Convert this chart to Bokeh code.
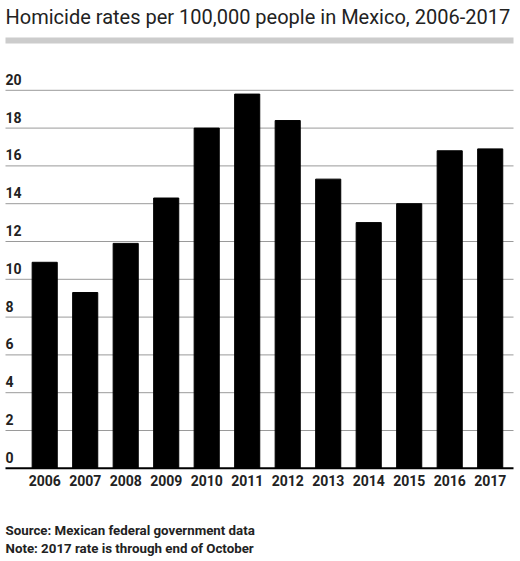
from bokeh.plotting import figure
from bokeh.models import Range1d, Label, BoxAnnotation
from bokeh.core.properties import value
from bokeh.embed import file_html
from bokeh.resources import INLINE

# ---- data ----
years = [2006, 2007, 2008, 2009, 2010, 2011, 2012, 2013, 2014, 2015, 2016, 2017]
rates = [10.9, 9.3, 11.9, 14.3, 18.0, 19.8, 18.4, 15.3, 13.0, 14.0, 16.8, 16.9]
y_ticks = [0, 2, 4, 6, 8, 10, 12, 14, 16, 18, 20]
y_tick_labels = [str(t) for t in y_ticks]
year_labels = [str(y) for y in years]
title_text = "Homicide rates per 100,000 people in Mexico, 2006-2017"
source_text = "Source: Mexican federal government data"
note_text = "Note: 2017 rate is through end of October"

# ---- layout geometry (pixels) ----
W, H = 520, 561
px_per_year = 40.5
first_center_px = 44.2
zero_px = 467.8
px_per_unit = 18.9
grid_left_px = 5
grid_right_px = 513
TEXT_SHIFT = 6  # compensate text baseline placement

x_start = years[0] - first_center_px / px_per_year
x_end = x_start + W / px_per_year
y_end = zero_px / px_per_unit
y_start = -(H - zero_px) / px_per_unit

def xpx(px):
    return x_start + px / px_per_year

def ypx(py):
    return y_end - (py - TEXT_SHIFT) / px_per_unit

FONT = "Roboto"
TXT = "#222222"

p = figure(width=W, height=H, x_range=Range1d(x_start, x_end), y_range=Range1d(y_start, y_end),
           x_axis_location=None, y_axis_location=None, toolbar_location=None,
           output_backend="svg", min_border=0, outline_line_color=None,
           background_fill_color="white", border_fill_color="white")
p.grid.visible = False

# gridlines
grid_vals = y_ticks[1:]
p.segment(x0=[xpx(grid_left_px)] * len(grid_vals), x1=[xpx(grid_right_px)] * len(grid_vals),
          y0=grid_vals, y1=grid_vals, line_color="#9a9a9a", line_width=1)

# bars
p.vbar(x=years, top=rates, bottom=0, width=0.62, fill_color="black", line_color="black")

# baseline
p.segment(x0=[xpx(grid_left_px)], x1=[xpx(grid_right_px)], y0=[0], y1=[0],
          line_color="black", line_width=2)

# y tick labels (inside plot, above gridlines)
p.text(x=[xpx(grid_left_px)] * len(y_ticks), y=y_ticks, text=y_tick_labels, text_font=value(FONT),
       text_font_style="bold", text_font_size="14px", text_color=TXT,
       text_baseline="alphabetic", text_align="left", y_offset=-5 - TEXT_SHIFT)

# year labels
p.text(x=years, y=[0] * len(years), text=year_labels, text_font=value(FONT),
       text_font_style="bold", text_font_size="14px", text_color=TXT,
       text_baseline="alphabetic", text_align="center", y_offset=18 - TEXT_SHIFT)

# title
p.add_layout(Label(x=xpx(grid_left_px), y=ypx(22), text=title_text, text_font=FONT,
                   text_font_size="20px", text_color=TXT, text_baseline="alphabetic"))
# grey rule
p.add_layout(BoxAnnotation(left=xpx(grid_left_px), right=xpx(grid_right_px),
                           top=y_end - 37 / px_per_unit, bottom=y_end - 43 / px_per_unit,
                           fill_color="#cccccc", fill_alpha=1, line_alpha=0))
# footnotes
p.add_layout(Label(x=xpx(grid_left_px), y=ypx(535.5), text=source_text, text_font=FONT,
                   text_font_style="bold", text_font_size="13.3px", text_color=TXT,
                   text_baseline="alphabetic"))
p.add_layout(Label(x=xpx(grid_left_px), y=ypx(553.5), text=note_text, text_font=FONT,
                   text_font_style="bold", text_font_size="13.3px", text_color=TXT,
                   text_baseline="alphabetic"))

open("out.html", "w").write(file_html(p, INLINE))
